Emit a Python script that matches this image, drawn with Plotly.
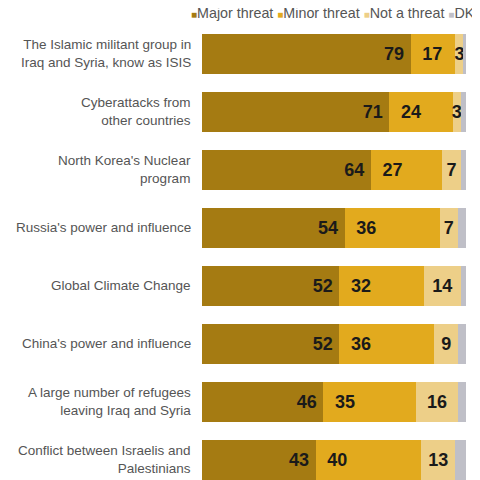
import plotly.graph_objects as go

categories = [
    "The Islamic militant group in<br>Iraq and Syria, know as ISIS",
    "Cyberattacks from<br>other countries",
    "North Korea's Nuclear<br>program",
    "Russia's power and influence",
    "Global Climate Change",
    "China's power and influence",
    "A large number of refugees<br>leaving Iraq and Syria",
    "Conflict between Israelis and<br>Palestinians",
]
major = [79, 71, 64, 54, 52, 52, 46, 43]
minor = [17, 24, 27, 36, 32, 36, 35, 40]
not_threat = [3, 3, 7, 7, 14, 9, 16, 13]
dk = [1, 2, 2, 3, 2, 3, 3, 4]

series_names = ["Major threat", "Minor threat", "Not a threat", "DK"]
series_values = [major, minor, not_threat, dk]
colors = ["#A57B12", "#E2AA1E", "#EDCF88", "#BFBFC7"]
anchors = ["end", "start", "middle", None]
prefix = ["", "\u00a0\u2009", "", ""]
suffix = ["\u2009", "", "", ""]

fig = go.Figure()
for name, vals, color, anchor, pre, suf in zip(series_names, series_values, colors, anchors, prefix, suffix):
    fig.add_trace(go.Bar(
        y=categories, x=vals, name=name, orientation="h",
        marker=dict(color=color, line=dict(width=0)),
        text=[pre + str(v) + suf for v in vals] if anchor else None,
        textposition="inside" if anchor else "none",
        insidetextanchor=anchor or "middle",
        textfont=dict(family="Liberation Sans, Arial", size=18, color="#1a1a1a", weight="bold"),
        constraintext="none",
        cliponaxis=False,
        width=0.69,
        showlegend=False,
    ))

# category labels (right-aligned, vertically centred on each bar)
for cat in categories:
    fig.add_annotation(
        text=cat, xref="paper", yref="y", x=-0.034, y=cat,
        xanchor="right", yanchor="middle", align="right", showarrow=False,
        font=dict(family="Liberation Sans, Arial", size=13.5, color="#555555"),
    )

legend_text = " ".join(
    f"<span style='color:{c};font-size:10px'>■</span>{n}" for n, c in zip(series_names, colors)
)
fig.add_annotation(
    text=legend_text, xref="paper", yref="paper",
    x=-0.049, y=1.024, xanchor="left", yanchor="middle", showarrow=False,
    font=dict(family="Liberation Sans, Arial", size=14.3, color="#555555"),
)

fig.update_layout(
    barmode="stack",
    width=472, height=472,
    margin=dict(l=194, r=14, t=16, b=0, autoexpand=False),
    plot_bgcolor="white", paper_bgcolor="white",
    uniformtext=dict(minsize=18, mode="show"),
    showlegend=False,
)
fig.update_xaxes(range=[0, 100], visible=False)
fig.update_yaxes(range=[7.345, -0.517], showgrid=False, showticklabels=False, ticks="")

fig.write_html("out.html")
